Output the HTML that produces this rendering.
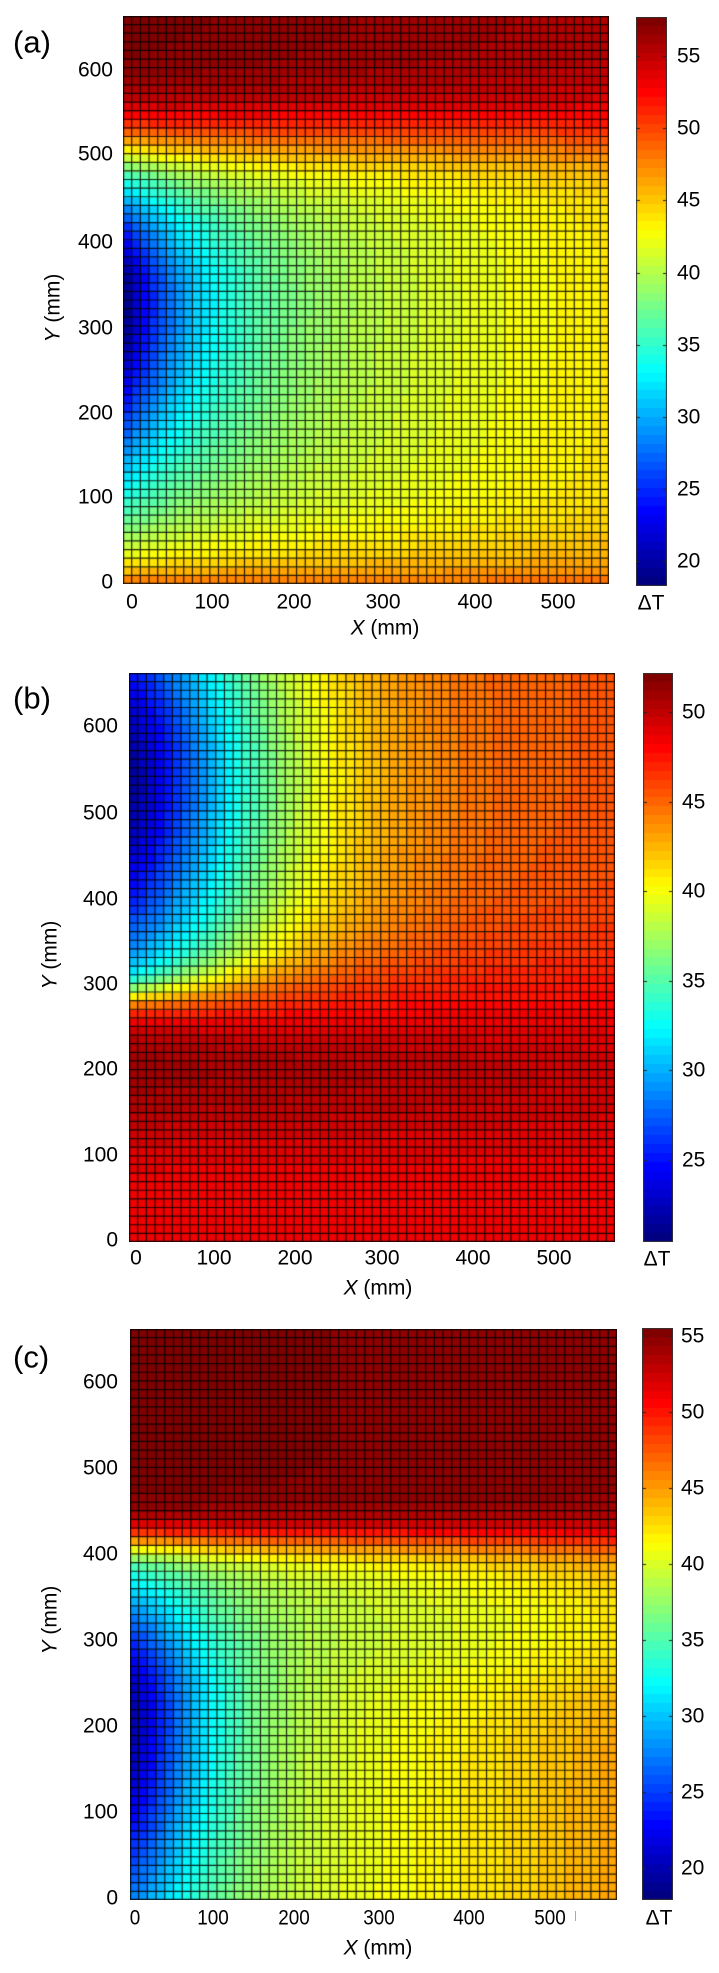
<!DOCTYPE html>
<html><head><meta charset="utf-8">
<style>
html,body{margin:0;padding:0;background:#fff;}
body{width:719px;height:1973px;position:relative;overflow:hidden;font-family:"Liberation Sans",Arial,sans-serif;color:#000;}
.t{position:absolute;font-size:21px;line-height:1;white-space:nowrap;}
.c{transform:translate(-50%,-50%);}
.r{transform:translate(-100%,-50%);}
.l{transform:translate(0,-50%);}
.cc{transform:translate(-50%,-50%) scaleX(0.9);}
.lab{position:absolute;font-size:31px;line-height:1;transform:translate(0,-50%);white-space:nowrap;}
.yl{position:absolute;font-size:21px;line-height:1;white-space:nowrap;transform:translate(-50%,-50%) rotate(-90deg);}
canvas{position:absolute;display:block;}
</style></head><body>

<!-- Panel (a) -->
<canvas id="pa" width="486" height="568" style="left:123px;top:16px;"></canvas>
<canvas id="ca" width="31" height="569" style="left:636px;top:17px;"></canvas>
<div class="lab" style="left:13px;top:42px;">(a)</div>
<div class="t r" style="left:113px;top:70px;">600</div>
<div class="t r" style="left:113px;top:154px;">500</div>
<div class="t r" style="left:113px;top:242px;">400</div>
<div class="t r" style="left:113px;top:328px;">300</div>
<div class="t r" style="left:113px;top:413px;">200</div>
<div class="t r" style="left:113px;top:497px;">100</div>
<div class="t r" style="left:113px;top:582px;">0</div>
<div class="t c" style="left:132px;top:602px;">0</div>
<div class="t c" style="left:212px;top:602px;">100</div>
<div class="t c" style="left:294px;top:602px;">200</div>
<div class="t c" style="left:383px;top:602px;">300</div>
<div class="t c" style="left:475px;top:602px;">400</div>
<div class="t c" style="left:558px;top:602px;">500</div>
<div class="t c" style="left:385px;top:628px;"><i>X</i> (mm)</div>
<div class="yl" style="left:53px;top:308px;"><i>Y</i> (mm)</div>
<div class="t l" style="left:677px;top:56px;">55</div>
<div class="t l" style="left:677px;top:128px;">50</div>
<div class="t l" style="left:677px;top:200px;">45</div>
<div class="t l" style="left:677px;top:273px;">40</div>
<div class="t l" style="left:677px;top:345px;">35</div>
<div class="t l" style="left:677px;top:417px;">30</div>
<div class="t l" style="left:677px;top:489px;">25</div>
<div class="t l" style="left:677px;top:561px;">20</div>
<div class="t c" style="left:651px;top:603px;">ΔT</div>

<!-- Panel (b) -->
<canvas id="pb" width="486" height="569" style="left:129px;top:673px;"></canvas>
<canvas id="cb" width="30" height="569" style="left:643px;top:673px;"></canvas>
<div class="lab" style="left:13px;top:698px;">(b)</div>
<div class="t r" style="left:118px;top:726px;">600</div>
<div class="t r" style="left:118px;top:813px;">500</div>
<div class="t r" style="left:118px;top:899px;">400</div>
<div class="t r" style="left:118px;top:984px;">300</div>
<div class="t r" style="left:118px;top:1069px;">200</div>
<div class="t r" style="left:118px;top:1155px;">100</div>
<div class="t r" style="left:118px;top:1240px;">0</div>
<div class="t c" style="left:136px;top:1258px;">0</div>
<div class="t c" style="left:214px;top:1258px;">100</div>
<div class="t c" style="left:295px;top:1258px;">200</div>
<div class="t c" style="left:382px;top:1258px;">300</div>
<div class="t c" style="left:473px;top:1258px;">400</div>
<div class="t c" style="left:554px;top:1258px;">500</div>
<div class="t c" style="left:378px;top:1288px;"><i>X</i> (mm)</div>
<div class="yl" style="left:50px;top:955px;"><i>Y</i> (mm)</div>
<div class="t l" style="left:682px;top:712px;">50</div>
<div class="t l" style="left:682px;top:802px;">45</div>
<div class="t l" style="left:682px;top:891px;">40</div>
<div class="t l" style="left:682px;top:981px;">35</div>
<div class="t l" style="left:682px;top:1070px;">30</div>
<div class="t l" style="left:682px;top:1160px;">25</div>
<div class="t c" style="left:657px;top:1259px;">ΔT</div>

<!-- Panel (c) -->
<canvas id="pc" width="487" height="571" style="left:130px;top:1329px;"></canvas>
<canvas id="cc" width="31" height="572" style="left:642px;top:1328px;"></canvas>
<div class="lab" style="left:13px;top:1357px;">(c)</div>
<div class="t r" style="left:118px;top:1382px;">600</div>
<div class="t r" style="left:118px;top:1468px;">500</div>
<div class="t r" style="left:118px;top:1554px;">400</div>
<div class="t r" style="left:118px;top:1640px;">300</div>
<div class="t r" style="left:118px;top:1726px;">200</div>
<div class="t r" style="left:118px;top:1812px;">100</div>
<div class="t r" style="left:118px;top:1898px;">0</div>
<div class="t cc" style="left:135px;top:1918px;">0</div>
<div class="t cc" style="left:213px;top:1918px;">100</div>
<div class="t cc" style="left:294px;top:1918px;">200</div>
<div class="t cc" style="left:379px;top:1918px;">300</div>
<div class="t cc" style="left:469px;top:1918px;">400</div>
<div class="t cc" style="left:550px;top:1918px;">500</div>
<div style="position:absolute;left:575px;top:1911px;width:1px;height:10px;background:#aaa;"></div>
<div class="t c" style="left:378px;top:1948px;"><i>X</i> (mm)</div>
<div class="yl" style="left:50px;top:1620px;"><i>Y</i> (mm)</div>
<div class="t l" style="left:681px;top:1336px;">55</div>
<div class="t l" style="left:681px;top:1412px;">50</div>
<div class="t l" style="left:681px;top:1488px;">45</div>
<div class="t l" style="left:681px;top:1564px;">40</div>
<div class="t l" style="left:681px;top:1640px;">35</div>
<div class="t l" style="left:681px;top:1716px;">30</div>
<div class="t l" style="left:681px;top:1792px;">25</div>
<div class="t l" style="left:681px;top:1868px;">20</div>
<div class="t c" style="left:659px;top:1918px;">ΔT</div>

<script>
function cl(v){return v<0?0:(v>1?1:v);}
function jet(t){
  t=cl(t);
  var k=Math.floor(t*64); if(k>63)k=63; t=k/63;
  var r=cl(1.5-Math.abs(4*t-3)),g=cl(1.5-Math.abs(4*t-2)),b=cl(1.5-Math.abs(4*t-1));
  return 'rgb('+Math.round(r*255)+','+Math.round(g*255)+','+Math.round(b*255)+')';
}
function lg(z){return 1/(1+Math.exp(-z));}
var W=566,H=663;

function fa(x,y){
  var xn=x/W;
  var E=40.7+3*xn*xn;
  var sig=y<330?230:155;
  var Dd=22.5*Math.exp(-Math.pow((y-330)/sig,2));
  var Im=E-Dd*Math.exp(-x/100);
  var b=Math.exp(-y/45);
  var I=Im+(48.5-Im)*b;
  var Vt=57.5-2*xn;
  var s=lg((y-520)/25);
  return I+(Vt-I)*s;
}
function fb(x,y){
  var xn=x/W;
  var h=y<540?Math.exp(-Math.pow((y-540)/330,2)):Math.exp(-Math.pow((y-540)/300,2));
  var U=45.5-24*Math.exp(-Math.pow(x/174,1.37))*h;
  var R=48.4+2.6*Math.exp(-Math.pow((y-200)/80,2))*(1-0.45*xn);
  var yc=285+40*xn,w=12+40*xn;
  var s=lg((y-yc)/w);
  return R+(U-R)*s;
}
function fc(x,y){
  var xn=x/W;
  var E=39.7+5*xn*xn-2.5*Math.exp(-Math.pow((y-320)/80,2))*xn;
  var sig=y<215?300:165;
  var Dd=20*Math.exp(-Math.pow((y-215)/sig,2));
  var I=E-Dd*Math.exp(-Math.pow(x/100,1.37));
  var Vt=55.2-0.7*xn;
  var s=lg((y-418)/13);
  return I+(Vt-I)*s;
}

function drawPanel(id,f,vmin,vmax){
  var c=document.getElementById(id),ctx=c.getContext('2d');
  var w=c.width,h=c.height,nc=56,nr=66,cw=w/nc,ch=h/nr,i,j;
  for(i=0;i<nc;i++){for(j=0;j<nr;j++){
    var x=(i+0.5)/nc*W,y=(j+0.5)/nr*H;
    ctx.fillStyle=jet((f(x,y)-vmin)/(vmax-vmin));
    ctx.fillRect(Math.floor(i*cw),Math.floor(h-(j+1)*ch),Math.ceil(cw)+1,Math.ceil(ch)+1);
  }}
  ctx.strokeStyle='rgba(0,0,0,0.85)';ctx.lineWidth=1.2;
  ctx.beginPath();
  for(i=0;i<=nc;i++){var xx=Math.min(Math.max(i*cw,0.6),w-0.6);ctx.moveTo(xx,0);ctx.lineTo(xx,h);}
  for(j=0;j<=nr;j++){var yy=Math.min(Math.max(j*ch,0.6),h-0.6);ctx.moveTo(0,yy);ctx.lineTo(w,yy);}
  ctx.stroke();
}
function drawCbar(id,vmin,vmax,ticks){
  var c=document.getElementById(id),ctx=c.getContext('2d');
  var w=c.width,h=c.height,p;
  for(p=0;p<h;p++){
    var v=vmax-(p+0.5)/h*(vmax-vmin);
    ctx.fillStyle=jet((v-vmin)/(vmax-vmin));
    ctx.fillRect(0,p,w,1);
  }
  ctx.strokeStyle='#222';ctx.lineWidth=1;
  ctx.beginPath();
  for(var k=0;k<ticks.length;k++){
    var yy=Math.round((vmax-ticks[k])/(vmax-vmin)*h)+0.5;
    ctx.moveTo(0,yy);ctx.lineTo(4,yy);ctx.moveTo(w-4,yy);ctx.lineTo(w,yy);
  }
  ctx.stroke();
  ctx.strokeStyle='#333';ctx.strokeRect(0.5,0.5,w-1,h-1);
}
drawPanel('pa',fa,18.3,57.7);
drawPanel('pb',fb,20.4,52.2);
drawPanel('pc',fc,17.9,55.5);
drawCbar('ca',18.3,57.7,[20,25,30,35,40,45,50,55]);
drawCbar('cb',20.4,52.2,[25,30,35,40,45,50]);
drawCbar('cc',17.9,55.5,[20,25,30,35,40,45,50,55]);
</script>
</body></html>
